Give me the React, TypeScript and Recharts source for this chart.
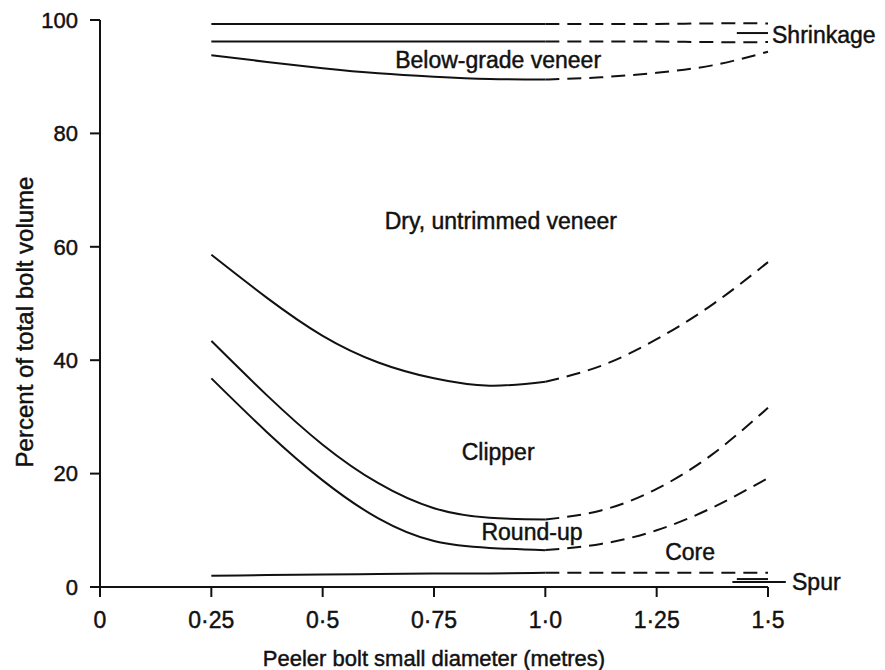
import React from 'react';
import { ComposedChart, Line, XAxis, YAxis, ReferenceLine, ReferenceDot } from 'recharts';

// bolt diameter (m) sampled along each boundary; solid part is measured, dashed is extrapolated
const diameterSolid = [0.25, 0.375, 0.5, 0.625, 0.75, 0.875, 1.0];
const diameterDashed = [1.0, 1.125, 1.25, 1.375, 1.5];

const shrinkTopSolid = [99.3, 99.3, 99.3, 99.3, 99.3, 99.3, 99.3];
const shrinkTopDashed = [99.3, 99.3, 99.3, 99.4, 99.4];
const shrinkBottomSolid = [96.2, 96.2, 96.2, 96.2, 96.2, 96.2, 96.2];
const shrinkBottomDashed = [96.2, 96.2, 96.2, 96.1, 96.1];
const belowGradeSolid = [93.8, 92.6, 91.5, 90.6, 90.0, 89.6, 89.5];
const belowGradeDashed = [89.5, 89.9, 90.7, 92.0, 94.4];
const drySolid = [58.6, 51.0, 44.3, 39.6, 36.8, 35.5, 36.2];
const dryDashed = [36.2, 39.0, 43.7, 49.8, 57.3];
const clipperSolid = [43.4, 33.8, 25.1, 18.3, 13.9, 12.2, 11.9];
const clipperDashed = [11.9, 13.5, 17.3, 23.4, 31.6];
const roundUpSolid = [36.8, 27.3, 18.8, 12.1, 8.1, 6.9, 6.5];
const roundUpDashed = [6.5, 7.6, 10.0, 14.0, 19.2];
const spurSolid = [2.0, 2.1, 2.2, 2.3, 2.4, 2.4, 2.5];
const spurDashed = [2.5, 2.5, 2.5, 2.5, 2.5];

const xTicks = [0, 0.25, 0.5, 0.75, 1.0, 1.25, 1.5];
const xTickLabels = ['0', '0·25', '0·5', '0·75', '1·0', '1·25', '1·5'];
const yTicks = [0, 20, 40, 60, 80, 100];

const regionLabels = [
  { text: 'Below-grade veneer', x: 0.894, y: 92.9 },
  { text: 'Dry, untrimmed veneer', x: 0.9, y: 64.6 },
  { text: 'Clipper', x: 0.894, y: 23.8 },
  { text: 'Round-up', x: 0.97, y: 9.7 },
  { text: 'Core', x: 1.325, y: 6.2 },
];
const sideLabels = [
  { text: 'Shrinkage', x: 1.5, y: 97.4 },
  { text: 'Spur', x: 1.545, y: 0.9 },
];

const FONT = '"Liberation Sans", Arial, sans-serif';
const INK = '#111';
// the scanned print looks a bit heavier than plain regular weight
const textInk = { fill: INK, stroke: INK, strokeWidth: 0.45, fontFamily: FONT };

const pts = (xs: number[], ys: number[]) => xs.map((d, i) => ({ d, v: ys[i] }));

const curves = [
  [shrinkTopSolid, shrinkTopDashed],
  [shrinkBottomSolid, shrinkBottomDashed],
  [belowGradeSolid, belowGradeDashed],
  [drySolid, dryDashed],
  [clipperSolid, clipperDashed],
  [roundUpSolid, roundUpDashed],
  [spurSolid, spurDashed],
];

export default function App() {
  return (
    <div style={{ position: 'absolute', left: 0, top: 0, background: '#fff' }}>
      <ComposedChart width={885} height={670} margin={{ top: 20, right: 117, bottom: 23, left: 0 }}>
        <XAxis
          type="number"
          dataKey="d"
          domain={[0, 1.5]}
          ticks={xTicks}
          allowDuplicatedCategory={false}
          tickFormatter={(v: number) => xTickLabels[xTicks.indexOf(v)] ?? String(v)}
          tickSize={10}
          tickMargin={15}
          height={60}
          stroke={INK}
          strokeWidth={2}
          tick={{ ...textInk, fontSize: 23 }}
          label={{
            content: ({ viewBox }: any) => (
              <text x={viewBox.x + viewBox.width / 2} y={666} textAnchor="middle" fontSize={22} {...textInk}>
                Peeler bolt small diameter (metres)
              </text>
            ),
          }}
        />
        <YAxis
          type="number"
          domain={[0, 100]}
          ticks={yTicks}
          tickSize={10}
          tickMargin={12}
          width={100}
          stroke={INK}
          strokeWidth={2}
          tick={{ ...textInk, fontSize: 22 }}
          label={{
            content: () => (
              <text x={33} y={322} transform="rotate(-90 33 322)" textAnchor="middle" fontSize={24} {...textInk}>
                Percent of total bolt volume
              </text>
            ),
          }}
        />
        {curves.map(([solid], i) => (
          <Line
            key={`s${i}`}
            data={pts(diameterSolid, solid)}
            dataKey="v"
            type="natural"
            stroke={INK}
            strokeWidth={2}
            dot={false}
            activeDot={false}
            isAnimationActive={false}
          />
        ))}
        {curves.map(([, dashed], i) => (
          <Line
            key={`d${i}`}
            data={pts(diameterDashed, dashed)}
            dataKey="v"
            type="natural"
            stroke={INK}
            strokeWidth={2}
            strokeDasharray="14 8"
            dot={false}
            activeDot={false}
            isAnimationActive={false}
          />
        ))}
        <ReferenceLine segment={[{ x: 1.43, y: 97.7 }, { x: 1.5, y: 97.7 }]} stroke={INK} strokeWidth={2} ifOverflow="visible" />
        <ReferenceLine segment={[{ x: 1.43, y: 1.4 }, { x: 1.5, y: 1.4 }]} stroke={INK} strokeWidth={2} ifOverflow="visible" />
        <ReferenceLine segment={[{ x: 1.42, y: 0.9 }, { x: 1.54, y: 0.9 }]} stroke={INK} strokeWidth={2} ifOverflow="visible" />
        {regionLabels.map((l) => (
          <ReferenceDot
            key={l.text}
            x={l.x}
            y={l.y}
            r={0}
            fill="none"
            stroke="none"
            ifOverflow="visible"
            label={{ value: l.text, position: 'center', fontSize: 23, ...textInk }}
          />
        ))}
        {sideLabels.map((l) => (
          <ReferenceDot
            key={l.text}
            x={l.x}
            y={l.y}
            r={0}
            fill="none"
            stroke="none"
            ifOverflow="visible"
            label={{ value: l.text, position: 'right', offset: 4, fontSize: 23, ...textInk }}
          />
        ))}
      </ComposedChart>
    </div>
  );
}
